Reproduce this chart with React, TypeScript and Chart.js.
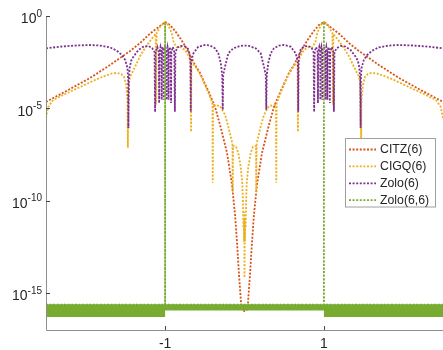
import React, { useEffect, useRef } from 'react';
import { Chart, registerables } from 'chart.js';

Chart.register(...registerables);

// ---- data: [x, log10(error)] ----
const seriesNames = ['CITZ(6)', 'CIGQ(6)', 'Zolo(6)', 'Zolo(6,6)'];
const seriesColors = ['#D95319', '#EDB120', '#7E2F8E', '#77AC30'];

const citzPts: number[][] = [
  [-2.5, -4.65], [-2.195, -3.95], [-1.943, -3.35], [-1.692, -2.65], [-1.566, -2.27], [-1.44, -1.89],
  [-1.314, -1.46], [-1.189, -0.95], [-1.088, -0.62], [-1.0, -0.32], [-0.937, -0.49], [-0.874, -0.81],
  [-0.811, -1.19], [-0.748, -1.62], [-0.686, -2.11], [-0.623, -2.65], [-0.56, -3.08], [-0.497, -3.68],
  [-0.434, -4.27], [-0.371, -4.92], [-0.308, -5.9], [-0.22, -7.41], [-0.157, -9.14], [-0.119, -10.76],
  [-0.094, -12.28], [-0.069, -14.01], [-0.044, -15.52], [-0.03, -15.9], [0, -15.98],
  [0.03, -15.9], [0.044, -15.52], [0.069, -14.01], [0.094, -12.28], [0.119, -10.76], [0.157, -9.14],
  [0.22, -7.41], [0.308, -5.9], [0.371, -4.92], [0.434, -4.27], [0.497, -3.68], [0.56, -3.08],
  [0.623, -2.65], [0.686, -2.11], [0.748, -1.62], [0.811, -1.19], [0.874, -0.81], [0.937, -0.49],
  [1.0, -0.32], [1.088, -0.62], [1.189, -0.95], [1.314, -1.46], [1.44, -1.89], [1.566, -2.27],
  [1.692, -2.65], [1.943, -3.35], [2.195, -3.95], [2.5, -4.65],
];

const cigqPts: number[][] = [
  [-2.5, -5.52], [-2.472, -4.92], [-2.409, -4.54], [-2.258, -4.22], [-2.069, -3.84], [-1.881, -3.46],
  [-1.755, -3.24], [-1.667, -3.11], [-1.604, -3.08], [-1.553, -3.14], [-1.516, -3.3], [-1.491, -3.73],
  [-1.474, -4.54], [-1.469, -7.14], [-1.463, -4.54], [-1.453, -3.57], [-1.44, -3.28], [-1.377, -2.74],
  [-1.314, -2.16], [-1.252, -1.73], [-1.189, -1.35], [-1.119, -0.97], [-1.113, -4.81], [-1.107, -0.92],
  [-1.063, -0.59], [-1.025, -0.41], [-1.0, -0.32], [-0.962, -0.49], [-0.916, -0.92], [-0.893, -1.41],
  [-0.853, -1.7], [-0.811, -1.68], [-0.748, -1.84], [-0.698, -2.22], [-0.678, -2.49], [-0.673, -6.27],
  [-0.668, -2.49], [-0.623, -2.7], [-0.56, -3.14], [-0.497, -3.73], [-0.434, -4.38], [-0.404, -4.76],
  [-0.4, -9.03], [-0.396, -4.81], [-0.308, -4.87], [-0.245, -5.35], [-0.204, -5.99], [-0.174, -6.53],
  [-0.152, -6.92], [-0.148, -9.52], [-0.145, -7.03], [-0.107, -7.07], [-0.078, -7.41], [-0.048, -8.17],
  [-0.028, -9.03], [-0.019, -10.22], [-0.014, -11.47], [-0.01, -10.6], [-0.006, -12.22], [-0.003, -11.03],
  [0, -14.17],
  [0.003, -11.03], [0.006, -12.22], [0.01, -10.6], [0.014, -11.47], [0.019, -10.22], [0.028, -9.03],
  [0.048, -8.17], [0.078, -7.41], [0.107, -7.07], [0.145, -7.03], [0.148, -9.52], [0.152, -6.92],
  [0.174, -6.53], [0.204, -5.99], [0.245, -5.35], [0.308, -4.87], [0.396, -4.81], [0.4, -9.03],
  [0.404, -4.76], [0.434, -4.38], [0.497, -3.73], [0.56, -3.14], [0.623, -2.7], [0.668, -2.49],
  [0.673, -6.27], [0.678, -2.49], [0.698, -2.22], [0.748, -1.84], [0.811, -1.68], [0.853, -1.7],
  [0.893, -1.41], [0.916, -0.92], [0.962, -0.49], [1.0, -0.32], [1.025, -0.41], [1.063, -0.59],
  [1.107, -0.92], [1.113, -4.81], [1.119, -0.97], [1.189, -1.35], [1.252, -1.73], [1.314, -2.16],
  [1.377, -2.74], [1.44, -3.28], [1.453, -3.57], [1.463, -4.54], [1.469, -7.14], [1.474, -4.54],
  [1.491, -3.73], [1.516, -3.3], [1.553, -3.14], [1.604, -3.08], [1.667, -3.11], [1.755, -3.24],
  [1.881, -3.46], [2.069, -3.84], [2.258, -4.22], [2.409, -4.54], [2.472, -4.92], [2.5, -5.52],
];

const zolo6Pts: number[][] = [
  [-2.5, -1.75], [-2.321, -1.66], [-2.132, -1.6], [-1.943, -1.57], [-1.818, -1.6], [-1.692, -1.7],
  [-1.608, -1.88], [-1.545, -2.11], [-1.503, -2.38], [-1.474, -2.81], [-1.465, -3.46], [-1.462, -6.06],
  [-1.457, -3.46], [-1.447, -2.81], [-1.428, -2.43], [-1.399, -2.2], [-1.336, -1.84], [-1.273, -1.66],
  [-1.214, -1.62], [-1.164, -1.73], [-1.133, -1.95], [-1.126, -5.19], [-1.119, -1.95], [-1.098, -1.68],
  [-1.079, -1.95], [-1.075, -4.71], [-1.071, -1.95], [-1.058, -1.68], [-1.047, -1.95], [-1.044, -4.54],
  [-1.041, -1.95], [-1.031, -1.68], [-1.022, -1.95], [-1.019, -4.54], [-1.016, -1.95], [-1.0, -1.68],
  [-0.984, -1.95], [-0.981, -4.54], [-0.978, -1.95], [-0.969, -1.68], [-0.959, -1.95], [-0.956, -4.54],
  [-0.953, -1.95], [-0.942, -1.68], [-0.929, -1.95], [-0.925, -4.71], [-0.921, -1.95], [-0.902, -1.68],
  [-0.884, -1.95], [-0.877, -5.19], [-0.87, -1.95], [-0.843, -1.7], [-0.799, -1.62], [-0.748, -1.65],
  [-0.711, -1.78], [-0.689, -2.11], [-0.682, -2.54], [-0.677, -5.19], [-0.672, -2.54], [-0.66, -2.27],
  [-0.644, -2.02], [-0.581, -1.66], [-0.497, -1.57], [-0.434, -1.6], [-0.371, -1.75], [-0.33, -2.02],
  [-0.299, -2.54], [-0.281, -3.19], [-0.274, -5.08], [-0.268, -3.19], [-0.245, -2.74], [-0.204, -2.02],
  [-0.141, -1.75], [-0.057, -1.62], [0, -1.6],
  [0.057, -1.62], [0.141, -1.75], [0.204, -2.02], [0.245, -2.74], [0.268, -3.19], [0.274, -5.08],
  [0.281, -3.19], [0.299, -2.54], [0.33, -2.02], [0.371, -1.75], [0.434, -1.6], [0.497, -1.57],
  [0.581, -1.66], [0.644, -2.02], [0.66, -2.27], [0.672, -2.54], [0.677, -5.19], [0.682, -2.54],
  [0.689, -2.11], [0.711, -1.78], [0.748, -1.65], [0.799, -1.62], [0.843, -1.7], [0.87, -1.95],
  [0.877, -5.19], [0.884, -1.95], [0.902, -1.68], [0.921, -1.95], [0.925, -4.71], [0.929, -1.95],
  [0.942, -1.68], [0.953, -1.95], [0.956, -4.54], [0.959, -1.95], [0.969, -1.68], [0.978, -1.95],
  [0.981, -4.54], [0.984, -1.95], [1.0, -1.68], [1.016, -1.95], [1.019, -4.54], [1.022, -1.95],
  [1.031, -1.68], [1.041, -1.95], [1.044, -4.54], [1.047, -1.95], [1.058, -1.68], [1.071, -1.95],
  [1.075, -4.71], [1.079, -1.95], [1.098, -1.68], [1.119, -1.95], [1.126, -5.19], [1.133, -1.95],
  [1.164, -1.73], [1.214, -1.62], [1.273, -1.66], [1.336, -1.84], [1.399, -2.2], [1.428, -2.43],
  [1.447, -2.81], [1.457, -3.46], [1.462, -6.06], [1.465, -3.46], [1.474, -2.81], [1.503, -2.38],
  [1.545, -2.11], [1.608, -1.88], [1.692, -1.7], [1.818, -1.6], [1.943, -1.57], [2.132, -1.6],
  [2.321, -1.66], [2.5, -1.75],
];

// Zolo(6,6): spikes at +-1 over a machine-precision noise band
const zolo66Pts: number[][] = [
  [-2.5, -15.63], [-1.0005, -15.63], [-1.0, -0.32], [-0.9995, -15.63],
  [0.9995, -15.63], [1.0, -0.32], [1.0005, -15.63], [2.5, -15.63],
];
const zolo66BandTop: number[][] = [
  [-2.5, -15.6], [-1.0, -15.6], [-1.0, -15.6], [1.0, -15.6], [1.0, -15.6], [2.5, -15.6],
];
const zolo66BandBottom: number[][] = [
  [-2.5, -16.3], [-1.0, -16.3], [-1.0, -15.95], [1.0, -15.95], [1.0, -16.3], [2.5, -16.3],
];

const xTicks = [-1, 1];
const yTickExps = [0, -5, -10, -15];
const xMin = -2.5;
const xMax = 2.5;
const yMin = 1e-17;
const yMax = 1;

const toXY = (pts: number[][]) => pts.map(([x, e]) => ({ x, y: Math.pow(10, e) }));

const FONT = '"Liberation Sans", Arial, Helvetica, sans-serif';
const TEXT = '#262626';
const DASH = [2, 1.6];
const LW = 1.8;

export default function App() {
  const ref = useRef<HTMLCanvasElement | null>(null);

  useEffect(() => {
    document.body.style.margin = '0';
    const canvas = ref.current;
    if (!canvas) return;

    const axesPlugin = {
      id: 'matlabAxes',
      afterDraw(chart: any) {
        const ctx = chart.ctx as CanvasRenderingContext2D;
        const area = chart.chartArea;
        const xs = chart.scales.x;
        const ys = chart.scales.y;
        ctx.save();
        // axis lines
        ctx.strokeStyle = '#8f8f8f';
        ctx.lineWidth = 1;
        ctx.setLineDash([]);
        ctx.beginPath();
        ctx.moveTo(area.left + 0.5, area.top);
        ctx.lineTo(area.left + 0.5, area.bottom + 0.5);
        ctx.lineTo(area.right, area.bottom + 0.5);
        ctx.stroke();
        // ticks
        ctx.strokeStyle = '#444';
        ctx.beginPath();
        yTickExps.forEach((e) => {
          const py = Math.round(ys.getPixelForValue(Math.pow(10, e))) + 0.5;
          ctx.moveTo(area.left, py);
          ctx.lineTo(area.left + 4, py);
        });
        xTicks.forEach((v) => {
          const px = Math.round(xs.getPixelForValue(v)) + 0.5;
          ctx.moveTo(px, area.bottom);
          ctx.lineTo(px, area.bottom - 4);
        });
        ctx.stroke();
        // y labels 10^e
        ctx.fillStyle = TEXT;
        ctx.textBaseline = 'alphabetic';
        yTickExps.forEach((e) => {
          const py = ys.getPixelForValue(Math.pow(10, e));
          const sup = String(e);
          ctx.font = `10px ${FONT}`;
          const supW = ctx.measureText(sup).width;
          ctx.textAlign = 'right';
          ctx.fillText(sup, 42, py + 0.7);
          ctx.font = `14px ${FONT}`;
          ctx.fillText('10', 42 - supW, py + 7.3);
        });
        // x labels
        ctx.font = `14px ${FONT}`;
        ctx.textAlign = 'center';
        xTicks.forEach((v) => {
          const px = xs.getPixelForValue(v);
          ctx.fillText(String(v), px, 348);
        });
        // legend
        const lx = 345.5, ly = 138.5, lw = 90, lh = 68.5;
        ctx.fillStyle = '#ffffff';
        ctx.fillRect(lx, ly, lw, lh);
        ctx.strokeStyle = '#a0a0a0';
        ctx.lineWidth = 1;
        ctx.strokeRect(lx, ly, lw, lh);
        ctx.font = `12.3px ${FONT}`;
        ctx.textAlign = 'left';
        ctx.textBaseline = 'middle';
        seriesNames.forEach((name, i) => {
          const y = 149.5 + i * 16.9;
          ctx.strokeStyle = seriesColors[i];
          ctx.lineWidth = LW;
          ctx.setLineDash(DASH);
          ctx.beginPath();
          ctx.moveTo(349, y);
          ctx.lineTo(376, y);
          ctx.stroke();
          ctx.setLineDash([]);
          ctx.fillStyle = TEXT;
          ctx.fillText(name, 380, y + 0.5);
        });
        ctx.restore();
      },
    };

    const lineDs = (i: number, pts: number[][], order: number) => ({
      label: seriesNames[i],
      data: toXY(pts),
      borderColor: seriesColors[i],
      backgroundColor: seriesColors[i],
      borderWidth: LW,
      borderDash: DASH,
      pointRadius: 0,
      fill: false,
      tension: 0,
      order,
    });

    const chart = new Chart(canvas, {
      type: 'line',
      data: {
        datasets: [
          lineDs(0, citzPts, 5),
          lineDs(1, cigqPts, 4),
          lineDs(2, zolo6Pts, 3),
          {
            label: 'band-top',
            data: toXY(zolo66BandTop),
            borderColor: 'rgba(0,0,0,0)',
            backgroundColor: seriesColors[3],
            borderWidth: 1,
            pointRadius: 0,
            fill: '+1',
            order: 1,
          },
          {
            label: 'band-bottom',
            data: toXY(zolo66BandBottom),
            borderColor: 'rgba(0,0,0,0)',
            backgroundColor: 'rgba(0,0,0,0)',
            borderWidth: 1,
            pointRadius: 0,
            fill: false,
            order: 2,
          },
          lineDs(3, zolo66Pts, 0),
        ] as any,
      },
      options: {
        animation: false,
        responsive: false,
        devicePixelRatio: 1,
        layout: { padding: { left: 46, right: 0, top: 16, bottom: 20 } },
        scales: {
          x: { type: 'linear', min: xMin, max: xMax, display: false },
          y: { type: 'logarithmic', min: yMin, max: yMax, display: false },
        },
        plugins: {
          legend: { display: false },
          tooltip: { enabled: false },
        },
        elements: { point: { radius: 0 } },
      } as any,
      plugins: [axesPlugin],
    });

    return () => chart.destroy();
  }, []);

  return <canvas ref={ref} width={443} height={350} style={{ display: 'block' }} />;
}
